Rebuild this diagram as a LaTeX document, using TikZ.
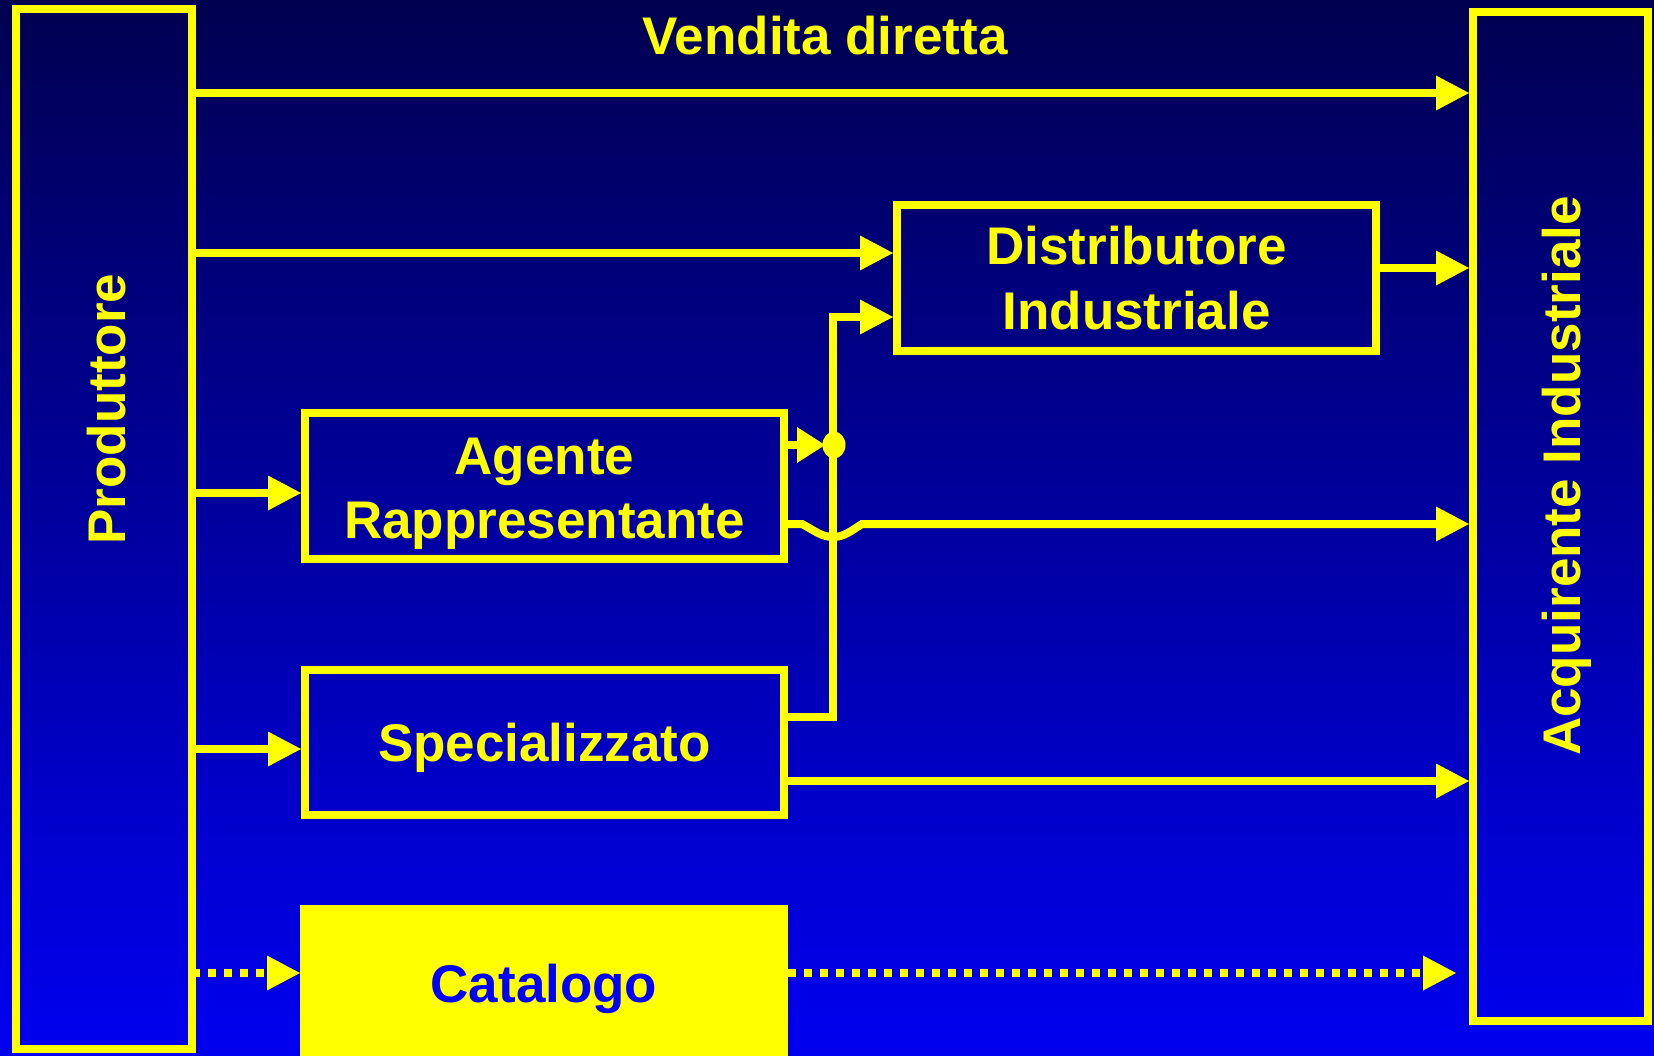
\documentclass[tikz,border=0pt]{standalone}
\usepackage{fontspec}
\setmainfont{Liberation Sans}
\usetikzlibrary{arrows.meta,shapes.geometric}
\definecolor{yel}{RGB}{255,255,0}
\definecolor{bgtop}{RGB}{0,0,80}
\definecolor{bgbot}{RGB}{0,0,240}
\definecolor{catblue}{RGB}{0,0,255}
\tikzset{
  box/.style={draw=yel, line width=8pt, inner sep=0pt, outer sep=4pt},
  lbl/.style={text=yel, font=\bfseries\fontsize{53}{64}\selectfont, inner sep=0pt, anchor=base},
  capc/.style={font=\bfseries\fontsize{53}{64}\selectfont, text height=38pt, text depth=0pt},
  conn/.style={draw=yel, line width=8pt, line join=miter, line cap=butt},
  tip/.style={-{Triangle[length=33pt, width=35pt, line width=0pt]}},
  shorttip/.style={-{Triangle[length=28pt, width=36pt, line width=0pt]}},
  dotline/.style={dash pattern=on 8pt off 8pt}
}
\begin{document}
\begin{tikzpicture}[x=1pt,y=-1pt]
\useasboundingbox (0,0) rectangle (1654,1056);
\shade[top color=bgtop, bottom color=bgbot] (0,0) rectangle (1654,1056);

% boxes
\node[box, minimum width=176pt, minimum height=1040pt] (prod) at (104,529) {};
\node[box, minimum width=175pt, minimum height=1008.5pt] (acq) at (1560.5,516.75) {};
\node[box, minimum width=479pt, minimum height=146pt] (dist) at (1136.5,278) {};
\node[box, minimum width=479pt, minimum height=146pt] (ag) at (544.5,486) {};
\node[box, capc, text=yel, minimum width=479pt, minimum height=145pt] (sp) at (544.5,742.5) {Specializzato};
\node[fill=yel, inner sep=0pt, outer sep=0pt, capc, text=catblue, minimum width=488pt, minimum height=156pt] (cat) at (544,983) {Catalogo};

% texts
\node[lbl] (title) at (825,55) {Vendita diretta};
\node[lbl, rotate=90] (prodtxt) at (125,409) {Produttore};
\node[lbl, rotate=90] (acqtxt) at (1580,476) {Acquirente Industriale};
\node[lbl] (ag1) at (544.5,474) {Agente};
\node[lbl] (ag2) at (544.5,538) {Rappresentante};
\node[lbl] (di1) at (1136.5,265) {Distributore};
\node[lbl] (di2) at (1136.5,330) {Industriale};

% rows
\coordinate (r1) at (0,93);
\coordinate (r2) at (0,253);
\coordinate (r3) at (0,268);
\coordinate (r4) at (0,493);
\coordinate (r5) at (0,749);
\coordinate (r6) at (0,973);
\coordinate (rh) at (0,524);
\coordinate (r11) at (0,781);
\coordinate (jb) at (833,717);
\coordinate (jt) at (833,317);
\coordinate (hop1) at (802,524);
\coordinate (hopb) at (833,537);
\coordinate (hop2) at (862,524);
\coordinate (catend) at (1456,973);
\coordinate (dotc) at (834,445);

% connectors
\draw[conn, tip] (prod.east |- r1) -- (acq.west |- r1);
\draw[conn, tip] (prod.east |- r2) -- (dist.west |- r2);
\draw[conn, tip] (dist.east |- r3) -- (acq.west |- r3);
\draw[conn, tip] (prod.east |- r4) -- (ag.west |- r4);
\draw[conn, tip] (prod.east |- r5) -- (sp.west |- r5);
\draw[conn, tip, dotline, dash phase=4pt] (prod.east |- r6) -- (cat.west |- r6);
\draw[conn, tip, dotline] (cat.east |- r6) -- (catend);
\draw[conn, tip] (sp.east |- jb) -- (jb) -- (jt) -- (dist.west |- jt);
\draw[conn, tip] (sp.east |- r11) -- (acq.west |- r11);
\draw[conn, tip] (ag.east |- rh) -- (hop1) .. controls (815,531) and (822,537) .. (hopb) .. controls (844,537) and (851,531) .. (hop2) -- (acq.west |- rh);
\draw[conn, shorttip] (ag.east |- dotc) -- (825,445);
\node[ellipse, fill=yel, inner sep=0pt, minimum width=23pt, minimum height=27pt] (dot) at (dotc) {};
\end{tikzpicture}
\end{document}
